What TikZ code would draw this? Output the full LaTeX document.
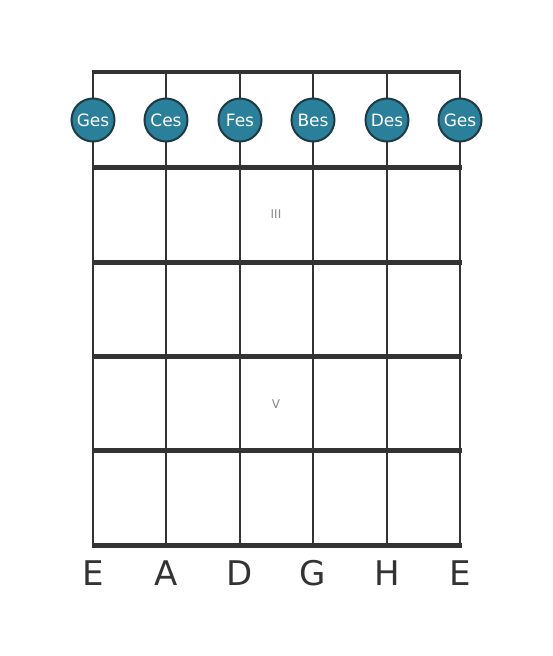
\documentclass[tikz,border=0pt]{standalone}
\usepackage{fontspec}
\setmainfont{DejaVu Sans}
\definecolor{line}{HTML}{333333}
\definecolor{dot}{HTML}{2A7F9B}
\definecolor{dotedge}{HTML}{1E3A44}
\definecolor{roman}{HTML}{888888}
\tikzset{
  fret/.style={line width=5pt, draw=line},
  nut/.style={line width=4pt, draw=line},
  strg/.style={line width=2.5pt, draw=line},
  note/.style={circle, minimum size=43pt, inner sep=0pt, fill=dot, draw=dotedge, line width=2pt, text=white, font=\fontsize{17pt}{18pt}\selectfont},
  tune/.style={text=line, font=\fontsize{34pt}{36pt}\selectfont, inner sep=0pt, anchor=base},
  rom/.style={text=roman, font=\fontsize{12pt}{13pt}\selectfont, inner sep=0pt}
}
\begin{document}
\begin{tikzpicture}[x=1pt,y=-1pt]
\useasboundingbox (0,0) rectangle (553,656);
% strings
\foreach \x/\n in {93/1,166/2,240/3,313/4,387/5,460/6}{
  \coordinate (st\n) at (\x,72);
  \coordinate (sb\n) at (\x,545);
  \draw[strg] (st\n) -- (sb\n);
}
% nut
\coordinate (fl0) at (92,72);
\coordinate (fr0) at (461,72);
\draw[nut] (fl0) -- (fr0);
% frets
\foreach \y/\n in {167/1,262/2,356/3,450/4,545/5}{
  \coordinate (fl\n) at (91.5,\y);
  \coordinate (fr\n) at (461.5,\y);
  \draw[fret] (fl\n) -- (fr\n);
}
% notes
\foreach \x/\n/\t in {93/1/Ges,166/2/Ces,240/3/Fes,313/4/Bes,387/5/Des,460/6/Ges}{
  \node[note] (n\n) at (\x,120) {\t};
}
% tuning
\foreach \x/\n/\t in {93/1/E,166/2/A,240/3/D,313/4/G,387/5/H,460/6/E}{
  \node[tune] (t\n) at (\x,585) {\t};
}
\node[rom] (r3) at (276,214) {III};
\node[rom] (r5) at (276,404) {V};
\end{tikzpicture}
\end{document}
